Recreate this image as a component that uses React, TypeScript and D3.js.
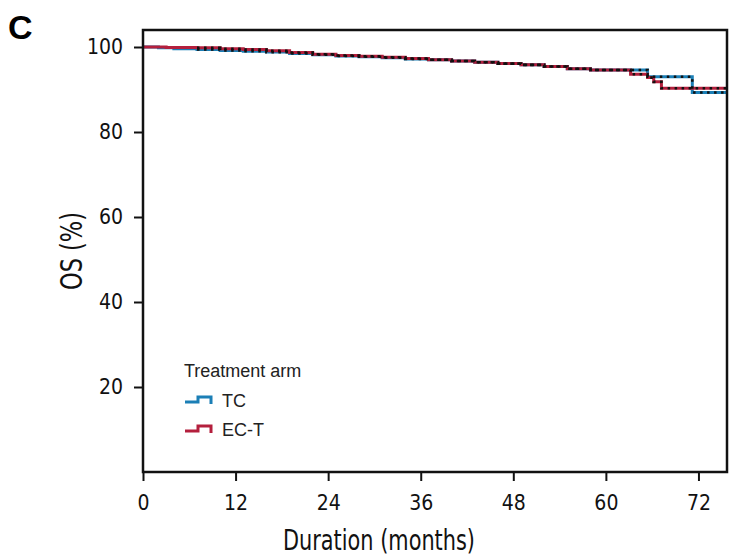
import * as d3 from 'd3'
import { useEffect, useRef } from 'react'

// Kaplan-Meier steps (months, OS %)
const tcTimes = [0, 2, 4, 7, 10, 13, 16, 19, 22, 25, 28, 31, 34, 37, 40, 43, 46, 49, 52, 55, 58, 65.4, 71.2]
const tcSurv = [100, 99.8, 99.6, 99.4, 99.2, 99.0, 98.8, 98.5, 98.2, 97.9, 97.7, 97.5, 97.2, 97.0, 96.7, 96.4, 96.1, 95.8, 95.4, 94.9, 94.6, 93.0, 89.3]

const ectTimes = [0, 3, 7, 10, 13, 16, 19, 22, 25, 28, 31, 34, 37, 40, 43, 46, 49, 52, 55, 58, 63.2, 65.4, 66.2, 67.2]
const ectSurv = [100, 99.9, 99.8, 99.6, 99.4, 99.1, 98.7, 98.3, 98.0, 97.8, 97.6, 97.3, 97.0, 96.7, 96.4, 96.1, 95.8, 95.4, 94.9, 94.6, 93.6, 92.8, 91.8, 90.3]

const xTicks = [0, 12, 24, 36, 48, 60, 72]
const yTicks = [20, 40, 60, 80, 100]
const arms = ['TC', 'EC-T']
const armColors = ['#1b7fb6', '#b41f3d']

const maxTime = 75.7
const censorStart = 7

export default function App() {
  const ref = useRef<SVGSVGElement | null>(null)
  const width = 730
  const height = 557
  const left = 143, right = 727, top = 30, bottom = 472

  useEffect(() => {
    const svg = d3.select(ref.current)
    svg.selectAll('*').remove()

    const x = d3.scaleLinear().domain([0, maxTime]).range([left, right])
    const y = d3.scaleLinear().domain([0, 104]).range([bottom, top])

    const narrow = '"DejaVu Sans Condensed", "DejaVu Sans", sans-serif'

    // y axis
    const yAxis = svg.append('g')
      .attr('transform', `translate(${left},0)`)
      .call(d3.axisLeft(y).tickValues(yTicks).tickSize(9).tickPadding(11).tickFormat(d3.format('d')))
    yAxis.select('.domain').remove()
    yAxis.selectAll('line').attr('stroke', '#111').attr('stroke-width', 2)
    yAxis.selectAll('text').attr('font-family', narrow).attr('font-stretch', 'condensed')
      .attr('font-size', 21).attr('fill', '#111')

    // x axis
    const xAxis = svg.append('g')
      .attr('transform', `translate(0,${bottom})`)
      .call(d3.axisBottom(x).tickValues(xTicks).tickSize(9).tickPadding(14).tickFormat(d3.format('d')))
    xAxis.select('.domain').remove()
    xAxis.selectAll('line').attr('stroke', '#111').attr('stroke-width', 2)
    xAxis.selectAll('text').attr('font-family', narrow).attr('font-stretch', 'condensed')
      .attr('font-size', 21).attr('fill', '#111')

    // curves
    const line = d3.line<[number, number]>()
      .curve(d3.curveStepAfter)
      .x(d => x(d[0]))
      .y(d => y(d[1]))

    const series = [
      tcTimes.map((t, i) => [t, tcSurv[i]] as [number, number]),
      ectTimes.map((t, i) => [t, ectSurv[i]] as [number, number]),
    ]
    series.forEach(s => s.push([maxTime, s[s.length - 1][1]]))

    const clip = svg.append('clipPath').attr('id', 'plotclip')
    clip.append('rect').attr('x', left).attr('y', top).attr('width', right - left).attr('height', bottom - top)

    const g = svg.append('g').attr('clip-path', 'url(#plotclip)')
    series.forEach((s, i) => {
      g.append('path')
        .attr('d', line(s))
        .attr('fill', 'none')
        .attr('stroke', armColors[i])
        .attr('stroke-width', 3)
    })
    // censoring marks as a dotted overlay
    series.forEach(s => {
      const startVal = s.filter(d => d[0] <= censorStart).slice(-1)[0][1]
      const part: [number, number][] = [[censorStart, startVal], ...s.filter(d => d[0] > censorStart)]
      g.append('path')
        .attr('d', line(part))
        .attr('fill', 'none')
        .attr('stroke', '#111')
        .attr('stroke-width', 2.6)
        .attr('stroke-dasharray', '2.5 4.5')
    })

    // frame
    svg.append('rect')
      .attr('x', left).attr('y', top)
      .attr('width', right - left).attr('height', bottom - top)
      .attr('fill', 'none').attr('stroke', '#111').attr('stroke-width', 2.5)

    // axis titles
    svg.append('text')
      .attr('x', 283).attr('y', 550)
      .attr('textLength', 192).attr('lengthAdjust', 'spacingAndGlyphs')
      .attr('font-family', narrow).attr('font-stretch', 'condensed')
      .attr('font-size', 29).attr('fill', '#111')
      .text('Duration (months)')
    svg.append('text')
      .attr('transform', `translate(82,290) rotate(-90)`)
      .attr('textLength', 78).attr('lengthAdjust', 'spacingAndGlyphs')
      .attr('font-family', narrow).attr('font-stretch', 'condensed')
      .attr('font-size', 30).attr('fill', '#111')
      .text('OS (%)')

    // panel letter
    svg.append('text')
      .attr('x', 8).attr('y', 39)
      .attr('font-family', '"Liberation Sans", Arial, sans-serif').attr('font-weight', 'bold')
      .attr('font-size', 34).attr('fill', '#000')
      .text('C')

    // legend
    const sans = '"Liberation Sans", Arial, sans-serif'
    svg.append('text')
      .attr('x', 184).attr('y', 377)
      .attr('font-family', sans).attr('font-size', 18).attr('fill', '#222')
      .text('Treatment arm')
    arms.forEach((name, i) => {
      const ly = 402 + i * 29
      svg.append('path')
        .attr('d', `M185,${ly} H198 V${ly - 5} H211 V${ly + 2}`)
        .attr('fill', 'none').attr('stroke', armColors[i]).attr('stroke-width', 3)
      svg.append('text')
        .attr('x', 222).attr('y', ly + 5)
        .attr('font-family', sans).attr('font-size', 18).attr('fill', '#222')
        .text(name)
    })
  }, [])

  return (
    <svg ref={ref} width={width} height={height}
      style={{ position: 'absolute', left: 0, top: 0, background: '#fff' }} />
  )
}
